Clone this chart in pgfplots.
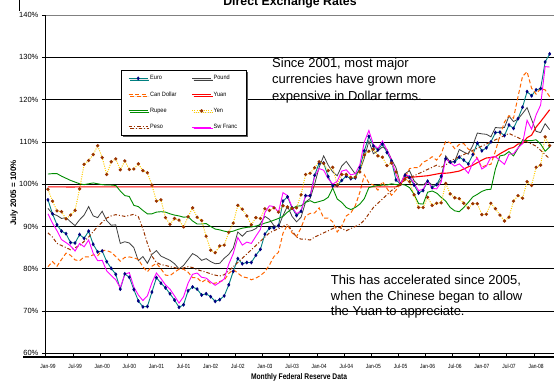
\documentclass[border=0pt]{standalone}
\usepackage{fontspec}
\setmainfont{Liberation Sans}
\newfontfamily\narrowfont[FakeStretch=0.82]{Liberation Sans}
\newfontfamily\legfont[FakeStretch=0.9]{Liberation Sans}
\usepackage{pgfplots}
\pgfplotsset{compat=1.18}
\usepackage{pgfplotstable}
\usetikzlibrary{shadows}
\definecolor{cEuro}{RGB}{0,128,128}
\definecolor{cNavy}{RGB}{0,0,128}
\definecolor{cPound}{RGB}{64,64,64}
\definecolor{cOrange}{RGB}{255,102,0}
\definecolor{cRed}{RGB}{255,0,0}
\definecolor{cGreen}{RGB}{0,140,0}
\definecolor{cYellow}{RGB}{255,204,0}
\definecolor{cBrown}{RGB}{153,51,0}
\definecolor{cMag}{RGB}{255,0,255}

\pgfplotstableread{
m eu gb ca cn in jp mx ch
0 96.3 94.3 80.5 99.35 102.4 98.8 88.5 93.0
1 93.0 93.0 81.7 99.35 102.5 96.0 87.5 90.8
2 90.4 92.6 80.6 99.36 102.5 93.7 86.0 89.0
3 88.9 91.9 82.2 99.35 101.9 93.5 85.5 86.9
4 88.3 92.1 83.7 99.35 101.4 91.8 85.0 86.2
5 86.2 91.1 83.2 99.34 100.9 92.7 84.5 85.4
6 86.1 90.2 82.1 99.35 100.5 93.8 85.0 84.2
7 88.1 91.6 81.9 99.35 100.1 98.9 85.5 86.0
8 87.2 92.7 82.8 99.35 99.9 104.7 86.5 85.2
9 88.9 94.7 82.8 99.35 100.1 105.6 87.5 86.8
10 85.8 92.5 83.3 99.35 100.3 107.0 88.8 83.7
11 84.0 92.1 83.1 99.35 100.1 109.1 90.0 81.9
12 84.2 93.6 84.4 99.35 99.9 106.3 91.0 82.0
13 81.7 91.4 84.3 99.35 99.8 102.3 92.0 79.5
14 80.1 90.3 83.9 99.35 99.8 105.3 92.5 78.4
15 78.7 90.4 82.9 99.35 99.7 106.0 92.8 77.4
16 75.2 86.0 81.8 99.35 98.4 103.4 92.6 75.5
17 78.8 86.4 82.7 99.35 97.3 105.5 92.4 78.7
18 78.0 86.1 82.8 99.35 97.1 103.5 92.6 79.1
19 75.1 85.0 82.6 99.35 95.0 103.6 92.9 75.7
20 72.4 81.9 82.2 99.35 94.7 104.8 92.3 73.8
21 71.0 82.9 80.5 99.35 93.8 103.2 89.5 72.5
22 71.1 81.3 79.3 99.35 93.0 102.7 86.0 73.6
23 74.5 83.4 80.6 99.35 93.0 99.8 83.0 76.7
24 77.9 84.3 81.3 99.36 93.4 96.0 81.5 79.0
25 76.6 83.0 80.0 99.36 93.5 96.3 81.0 77.7
26 75.5 82.5 78.5 99.36 93.4 92.1 80.8 76.2
27 74.1 82.0 78.4 99.36 93.0 90.5 80.5 75.2
28 72.6 81.2 79.2 99.36 92.7 91.9 80.3 73.6
29 70.9 80.0 79.9 99.36 92.5 91.5 80.0 71.9
30 71.5 80.8 79.9 99.36 92.2 89.9 80.2 73.4
31 74.8 82.2 79.2 99.36 92.3 92.3 80.5 76.6
32 75.7 83.6 77.9 99.36 91.3 94.4 80.3 78.7
33 75.2 83.0 77.9 99.36 90.6 92.2 79.8 79.0
34 73.8 82.0 76.8 99.36 90.6 91.4 79.5 78.0
35 74.1 82.4 77.5 99.36 90.7 87.7 79.2 77.8
36 73.4 81.7 76.5 99.36 90.0 84.4 78.8 76.9
37 72.3 81.2 76.6 99.36 89.4 83.8 78.5 76.1
38 72.7 81.3 77.0 99.36 89.2 85.4 78.3 76.8
39 73.6 82.5 77.3 99.36 88.9 85.6 78.6 77.6
40 76.2 83.4 78.9 99.36 88.7 88.6 79.5 81.1
41 79.4 84.9 79.8 99.36 88.9 90.8 80.5 83.6
42 82.4 88.7 79.0 99.36 89.3 95.0 81.5 87.4
43 81.2 87.7 78.1 99.36 89.6 94.1 82.5 85.6
44 81.5 88.8 77.9 99.36 89.8 92.5 83.5 86.3
45 81.5 89.0 77.4 99.36 89.9 90.4 84.5 86.0
46 83.2 89.5 77.8 99.36 90.1 92.1 85.5 87.7
47 84.6 90.7 78.4 99.36 90.4 91.9 86.5 89.3
48 88.2 92.4 79.3 99.36 90.8 94.2 87.5 93.3
49 89.6 91.7 80.9 99.36 91.1 93.8 88.5 94.9
50 89.7 90.2 82.9 99.36 91.5 94.4 89.0 94.7
51 90.2 89.9 83.9 99.36 91.9 93.4 89.5 93.4
52 96.0 92.6 88.4 99.36 92.4 94.9 90.0 98.0
53 97.0 94.8 90.4 99.36 93.4 94.6 90.5 97.3
54 94.4 92.4 88.5 99.36 94.2 94.3 89.0 94.6
55 92.6 91.1 87.6 99.36 94.8 94.4 87.5 93.0
56 93.6 92.2 89.7 99.36 94.9 97.5 87.0 93.7
57 97.3 95.8 92.5 99.36 95.7 102.3 87.0 97.3
58 97.3 96.6 93.1 99.36 96.1 102.6 86.8 97.1
59 102.1 100.0 93.2 99.36 95.6 103.9 87.5 101.8
60 105.0 104.0 94.4 99.36 95.9 105.3 88.0 103.7
61 105.0 106.7 92.0 99.36 96.2 104.9 88.5 103.3
62 101.8 104.5 92.0 99.36 96.9 103.2 89.0 101.3
63 99.6 102.9 91.1 99.36 99.1 104.0 89.5 100.0
64 99.7 102.0 88.7 99.36 96.5 99.8 90.0 100.7
65 100.9 104.3 90.1 99.36 95.7 102.3 89.5 103.1
66 101.9 105.4 92.5 99.36 94.5 102.3 89.0 103.4
67 101.3 103.9 93.2 99.36 94.0 101.6 89.5 102.2
68 101.5 102.4 94.9 99.36 94.5 101.7 90.0 102.5
69 103.9 103.2 98.1 99.36 95.3 102.9 90.5 104.6
70 107.9 106.2 102.2 99.36 96.6 106.9 91.5 110.0
71 111.3 110.2 100.3 99.36 99.2 107.8 93.0 112.7
72 109.0 107.2 99.8 99.37 99.5 108.3 94.5 109.4
73 108.1 107.9 98.6 99.37 99.7 106.7 95.5 108.4
74 109.5 108.8 100.6 99.37 99.8 106.4 96.5 110.2
75 107.5 108.2 99.0 99.37 99.8 104.4 97.5 108.1
76 105.5 105.9 97.4 99.37 100.1 105.0 98.5 105.8
77 101.0 103.9 98.6 99.37 99.9 102.9 99.3 102.3
78 100.0 100.0 100.0 100.0 100.0 100.0 100.0 100.0
79 102.1 102.5 101.6 101.5 99.8 101.2 101.0 102.3
80 101.6 103.2 103.7 101.7 99.2 100.6 101.5 101.9
81 99.8 100.8 103.9 101.7 97.6 97.5 102.0 100.2
82 97.9 99.8 103.9 101.8 95.4 94.5 102.5 98.5
83 98.5 99.8 105.2 101.9 95.3 94.5 103.0 98.8
84 100.7 100.7 105.7 102.0 98.1 96.9 103.5 100.8
85 99.2 99.8 106.5 102.2 98.4 95.0 104.0 99.0
86 99.9 99.8 105.7 102.4 97.9 95.5 104.5 98.9
87 101.9 101.0 107.1 102.6 96.9 95.6 104.0 100.5
88 106.0 106.7 110.2 102.6 96.0 100.2 104.5 106.1
89 105.2 105.2 109.8 102.7 94.5 97.7 105.5 105.1
90 105.3 105.4 108.4 102.9 93.7 96.8 106.0 104.3
91 106.4 108.2 109.4 103.1 93.5 96.6 106.5 104.8
92 105.7 107.6 109.6 103.6 94.5 95.5 107.0 103.8
93 104.8 107.1 108.3 104.1 95.7 94.4 107.5 102.6
94 107.0 109.2 107.7 104.5 97.0 95.4 108.0 105.0
95 109.7 112.1 106.0 105.1 97.6 95.4 108.5 106.2
96 107.9 111.9 104.0 105.7 98.3 92.8 109.0 103.6
97 108.6 111.8 104.5 106.2 98.7 92.9 109.5 104.3
98 110.0 111.2 104.7 106.3 98.8 95.5 110.0 106.4
99 112.2 113.4 107.8 106.5 103.6 94.2 110.5 106.5
100 112.3 113.3 111.5 107.2 106.7 92.7 111.0 105.6
101 111.5 113.4 114.7 107.8 106.9 91.3 111.5 104.7
102 114.0 116.1 116.2 108.4 107.7 92.2 112.0 107.1
103 113.2 114.8 115.6 108.7 106.7 96.0 111.5 107.2
104 115.5 115.4 120.7 109.5 108.5 97.3 111.0 108.6
105 118.2 116.7 125.5 109.6 110.4 96.7 110.5 109.6
106 121.9 118.1 126.6 111.0 110.3 100.6 110.0 115.1
107 120.9 115.3 122.7 111.6 110.3 99.7 109.5 113.0
108 122.3 112.5 121.3 113.5 110.5 104.0 109.0 116.4
109 122.6 112.2 122.6 114.8 109.5 104.5 108.0 118.7
110 128.9 114.3 122.3 116.2 107.8 111.2 107.0 127.8
111 130.8 112.9 120.7 117.6 108.8 109.1 106.0 127.7
}\fxdata

\begin{document}
\begin{tikzpicture}
\begin{axis}[
  at={(45.7pt,33.6pt)}, anchor=south west,
  scale only axis, width=513pt, height=338.4pt,
  xmin=-0.5, xmax=113, ymin=60, ymax=140,
  axis lines*=left, axis line style={-, black, line width=0.8pt},
  tick align=outside, major tick length=3.8pt,
  tick style={black, line width=0.6pt},
  xtick={-0.5,5.5,...,107.5},
  xticklabels={Jan-99,Jul-99,Jan-00,Jul-00,Jan-01,Jul-01,Jan-02,Jul-02,Jan-03,Jul-03,Jan-04,Jul-04,Jan-05,Jul-05,Jan-06,Jul-06,Jan-07,Jul-07,Jan-08},
  xticklabel style={font=\narrowfont\fontsize{6}{7}\selectfont, anchor=center, xshift=2.3pt, yshift=-8.8pt},
  ytick={60,70,...,130},
  yticklabels={60\%,70\%,80\%,90\%,100\%,110\%,120\%,130\%},
  extra y ticks={140}, extra y tick labels={140\%},
  extra y tick style={grid style={gray, line width=0.8pt}},
  yticklabel style={font=\fontsize{7.5}{9}\selectfont, anchor=east, xshift=0pt},
  ymajorgrids, grid style={black, line width=0.6pt},
  xlabel={Monthly Federal Reserve Data},
  xlabel style={font=\narrowfont\bfseries\fontsize{8.2}{10}\selectfont, at={(axis description cs:0.4938,-0.0695)}, anchor=center},
  ylabel={July 2005 = 100\%},
  ylabel style={font=\bfseries\fontsize{8}{10}\selectfont, at={(axis description cs:-0.0618,0.474)}, anchor=center},
  legend columns=2,
  legend cell align=left,
  legend style={at={(0.1468,0.8375)}, anchor=north west, draw=black, fill=white,
    font=\legfont\fontsize{6.2}{7}\selectfont, row sep=6.3pt, inner xsep=7pt, inner ysep=3.2pt,
    /tikz/every even column/.append style={column sep=13pt},
    drop shadow={shadow xshift=1.6pt, shadow yshift=-1.6pt, fill=black!65, opacity=1}},
  legend image code/.code={\draw[mark repeat=2,mark phase=2,#1] plot coordinates {(0pt,0pt) (9.5pt,0pt) (19pt,0pt)};},
]
\addplot[cEuro, line width=0.9pt, mark=diamond*, mark size=1.3pt, mark options={solid, fill=cNavy, draw=cNavy}] table[x=m,y=eu]{\fxdata};
\addlegendentry{Euro}
\addplot[cPound, line width=0.8pt] table[x=m,y=gb]{\fxdata};
\addlegendentry{Pound}
\addplot[cOrange, line width=1pt, dash pattern=on 4pt off 2.5pt] table[x=m,y=ca]{\fxdata};
\addlegendentry{Can Dollar}
\addplot[cRed, line width=1.1pt] table[x=m,y=cn]{\fxdata};
\addlegendentry{Yuan}
\addplot[cGreen, line width=0.9pt] table[x=m,y=in]{\fxdata};
\addlegendentry{Rupee}
\addplot[cYellow, line width=1pt, dash pattern=on 1pt off 1.3pt, mark=*, mark size=1.1pt, mark options={solid, fill=cBrown, draw=cBrown}] table[x=m,y=jp]{\fxdata};
\addlegendentry{Yen}
\addplot[cBrown, line width=1pt, dash pattern=on 3.5pt off 2pt on 1pt off 2pt] table[x=m,y=mx]{\fxdata};
\addlegendentry{Peso}
\addplot[cMag, line width=0.9pt] table[x=m,y=ch]{\fxdata};
\addlegendentry{Sw Franc}
\end{axis}
\node[anchor=base, font=\bfseries\fontsize{12.3}{14}\selectfont] at (290pt,381.5pt) {Direct Exchange Rates};
\draw[line width=2.4pt] (23.3pt,30pt) -- (600pt,30pt);
\draw[line width=0.9pt] (19pt,395pt) -- (19pt,376pt);
\node[anchor=base west, font=\fontsize{13}{16}\selectfont, inner sep=0pt] at (272pt,319.5pt) {Since 2001, most major};
\node[anchor=base west, font=\fontsize{13}{16}\selectfont, inner sep=0pt] at (272pt,303pt) {currencies have grown more};
\node[anchor=base west, font=\fontsize{13}{16}\selectfont, inner sep=0pt] at (272pt,286.5pt) {expensive in Dollar terms.};
\node[anchor=base west, font=\fontsize{13}{16}\selectfont, inner sep=0pt] at (330.7pt,102.5pt) {This has accelerated since 2005,};
\node[anchor=base west, font=\fontsize{13}{16}\selectfont, inner sep=0pt] at (330.7pt,86.5pt) {when the Chinese began to allow};
\node[anchor=base west, font=\fontsize{13}{16}\selectfont, inner sep=0pt] at (330.7pt,71pt) {the Yuan to appreciate.};
\pgfresetboundingbox
\useasboundingbox (0pt,0pt) rectangle (554pt,387pt);
\end{tikzpicture}
\end{document}
